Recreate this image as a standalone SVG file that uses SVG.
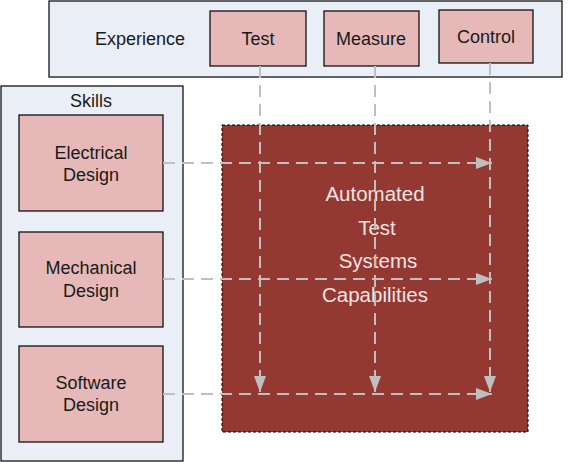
<svg xmlns="http://www.w3.org/2000/svg" width="568" height="462" viewBox="0 0 568 462">
<style>
text{font-family:"Liberation Sans",Arial,sans-serif;font-size:18px;fill:#1a1a1a;text-anchor:middle}
.panel{fill:#e9eef7;stroke:#000;stroke-width:1.2}
.box{fill:#e6b9b8;stroke:#000;stroke-width:1.2}
.core{fill:#943832;stroke:#000;stroke-width:1;stroke-dasharray:3 2}
.big{font-size:20.5px;fill:#f5e4e2}
.conn{stroke:#bfbfbf;stroke-width:2;stroke-dasharray:12 7;fill:none}
</style>
<defs>
<marker id="a" viewBox="0 0 16 12" refX="16" refY="6" markerWidth="16" markerHeight="12" orient="auto" markerUnits="userSpaceOnUse">
<path d="M0,0 L16,6 L0,12 Z" fill="#bfbfbf"/>
</marker>
</defs>
<g id="experience">
<rect class="panel" x="49" y="1" width="513" height="76"/>
<text x="140" y="45">Experience</text>
</g>
<g id="test"><rect class="box" x="210" y="11" width="96" height="55"/><text x="258" y="45">Test</text></g>
<g id="measure"><rect class="box" x="324" y="11" width="95" height="55"/><text x="371" y="45">Measure</text></g>
<g id="control"><rect class="box" x="439" y="10" width="94" height="53"/><text x="486" y="43">Control</text></g>
<g id="skills">
<rect class="panel" x="1" y="86" width="182" height="375"/>
<text x="91" y="107">Skills</text>
</g>
<g id="electrical"><rect class="box" x="19" y="115" width="144" height="96"/><text x="91" y="159">Electrical</text><text x="91" y="181">Design</text></g>
<g id="mechanical"><rect class="box" x="19" y="232" width="144" height="95"/><text x="91" y="274">Mechanical</text><text x="91" y="297">Design</text></g>
<g id="software"><rect class="box" x="19" y="346" width="144" height="96"/><text x="91" y="389">Software</text><text x="91" y="411">Design</text></g>
<g id="capabilities">
<rect class="core" x="222" y="125" width="306" height="307"/>
<text class="big" x="375" y="201">Automated</text>
<text class="big" x="377" y="235">Test</text>
<text class="big" x="378" y="268">Systems</text>
<text class="big" x="375" y="302">Capabilities</text>
</g>
<g id="connectors">
<line class="conn" x1="260" y1="66" x2="260" y2="392" marker-end="url(#a)"/>
<line class="conn" x1="375" y1="66" x2="375" y2="392" marker-end="url(#a)"/>
<line class="conn" x1="490" y1="63" x2="490" y2="392" marker-end="url(#a)"/>
<line class="conn" x1="163" y1="163" x2="492" y2="163" marker-end="url(#a)"/>
<line class="conn" x1="163" y1="279" x2="492" y2="279" marker-end="url(#a)"/>
<line class="conn" x1="163" y1="394" x2="492" y2="394" marker-end="url(#a)"/>
</g>
</svg>
